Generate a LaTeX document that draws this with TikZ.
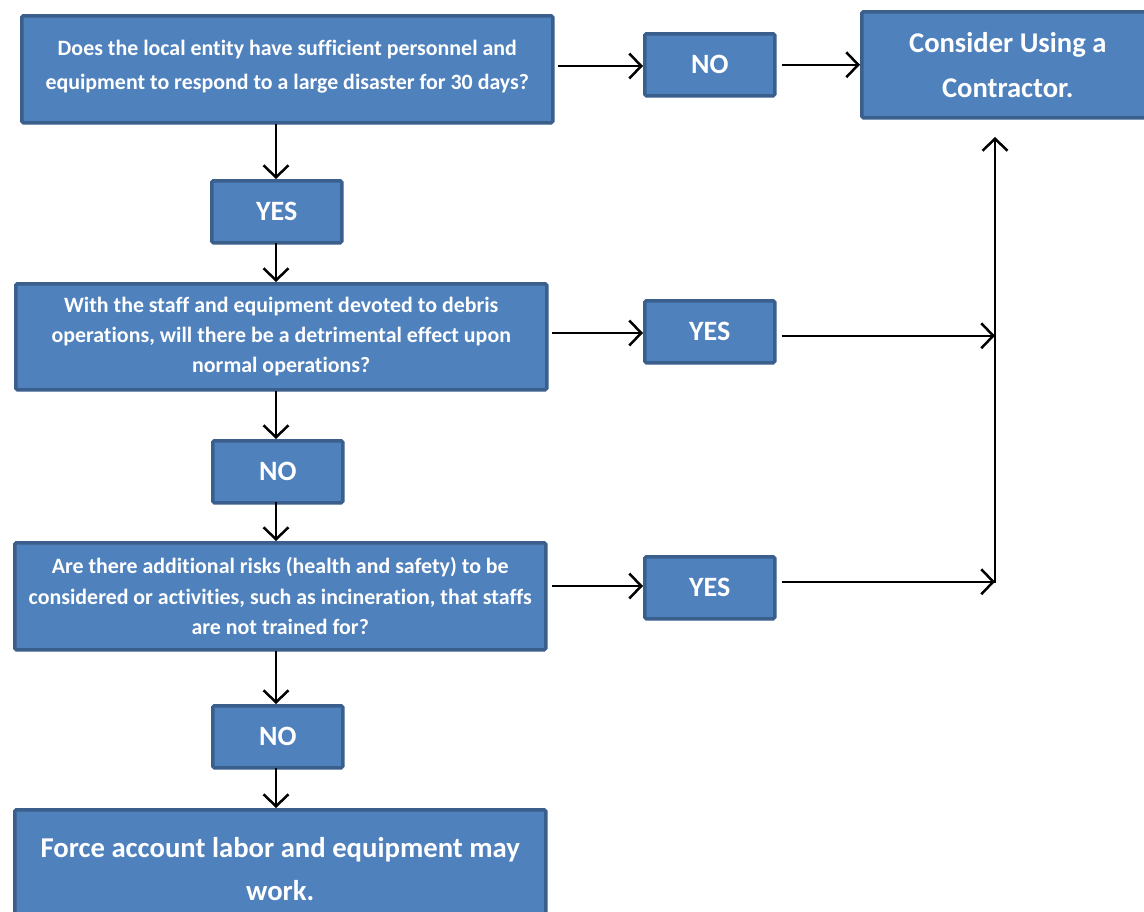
\documentclass[tikz,border=0pt]{standalone}
\usepackage{fontspec}
\setmainfont[Ligatures={NoCommon}]{Carlito}
\usetikzlibrary{arrows.meta,calc}
\definecolor{boxfill}{HTML}{4F81BD}
\definecolor{boxline}{HTML}{3A5F8C}
\begin{document}
\begin{tikzpicture}[x=1pt,y=-1pt,
  box/.style={draw=boxline, fill=boxfill, line width=3.5pt, rounded corners=1.5pt,
    anchor=north west, inner sep=0pt, text=white, align=center, font=\bfseries},
  small/.style={box, minimum width=130pt, minimum height=62pt, font=\bfseries\fontsize{28}{32}\selectfont},
  arr/.style={-{Straight Barb[length=12pt,width=25pt,line width=2.5pt]}, line width=2.5pt, black}]
\useasboundingbox (0,0) rectangle (1144,911);
\fill[white] (0,0) rectangle (1144,911);
% main boxes
\node[box, minimum width=531pt, minimum height=107pt, font=\bfseries\fontsize{21.9}{34}\selectfont] (b1) at (20,14)
  {Does the local entity have sufficient personnel and\\equipment to respond to a large disaster for 30 days?\\[-26pt]\mbox{}};
\node[box, minimum width=531pt, minimum height=106pt, font=\bfseries\fontsize{21.9}{30}\selectfont] (b2) at (14,282)
  {With the staff and equipment devoted to debris\\operations, will there be a detrimental effect upon\\normal operations?};
\node[box, minimum width=531pt, minimum height=107pt, font=\bfseries\fontsize{21.9}{30.5}\selectfont] (b3) at (13,541)
  {Are there additional risks (health and safety) to be\\considered or activities, such as incineration, that staffs\\are not trained for?};
\node[box, minimum width=531pt, minimum height=118pt, font=\bfseries\fontsize{28.7}{43}\selectfont] (b4) at (13,808)
  {Force account labor and equipment may\\work.};
\node[box, minimum width=292pt, minimum height=106pt, font=\bfseries\fontsize{28.6}{45}\selectfont] (con) at (860,10)
  {Consider Using a\\Contractor.};
% small boxes
\node[small] (no1) at (643,32) {NO};
\node[small] (yes1) at (210,179) {YES};
\node[small] (yes2) at (643,299) {YES};
\node[small] (no2) at (211,439) {NO};
\node[small] (yes3) at (643,555) {YES};
\node[small] (no3) at (211,704) {NO};
% junction coordinates
\coordinate (ctop) at (995,137);
\coordinate (cbot) at (995,583);
% horizontal connectors
\draw[arr] (558,66) coordinate (s1) -- (s1 -| no1.west);
\draw[arr] (no1.east) ++(5,0) coordinate (s2) -- (s2 -| con.west);
\draw[arr] (552,333) coordinate (s3) -- (s3 -| yes2.west);
\draw[arr] (yes2.east) ++(5,4) coordinate (s4) -- (s4 -| ctop);
\draw[arr] (552,586) coordinate (s5) -- (s5 -| yes3.west);
\draw[arr] (yes3.east) ++(5,-6) coordinate (s6) -- (s6 -| ctop);
\draw[arr] (cbot) -- (ctop);
% vertical connectors
\draw[arr] (276,124) coordinate (v1) -- (v1 |- yes1.north);
\draw[arr] (276,243) coordinate (v2) -- (v2 |- b2.north);
\draw[arr] (276,391) coordinate (v3) -- (v3 |- no2.north);
\draw[arr] (276,502) coordinate (v4) -- (v4 |- b3.north);
\draw[arr] (276,651) coordinate (v5) -- (v5 |- no3.north);
\draw[arr] (276,768) coordinate (v6) -- (v6 |- b4.north);
\end{tikzpicture}
\end{document}
